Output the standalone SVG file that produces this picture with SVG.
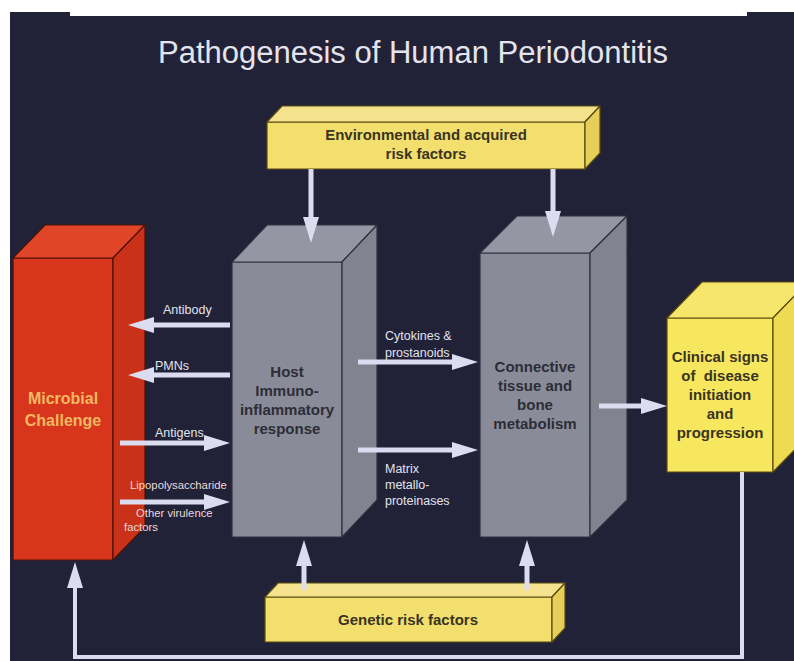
<svg xmlns="http://www.w3.org/2000/svg" width="794" height="661" viewBox="0 0 794 661">
<defs>
<style>
.bg{fill:#212238}
.edge{stroke-width:1.2;stroke-linejoin:round}
.red .f{fill:#d8361c}.red .t{fill:#e04528}.red .r{fill:#c93219}.red polygon,.red rect{stroke:#4a1208}
.gray .f{fill:#8a8b98}.gray .t{fill:#9596a3}.gray .r{fill:#82838f}.gray polygon,.gray rect{stroke:#2e3040}
.yel .f{fill:#f3df6e}.yel .t{fill:#f4e38c}.yel .r{fill:#e6cf58}.yel polygon,.yel rect{stroke:#5a4a10}
.yel2 .f{fill:#f7e75f}.yel2 .t{fill:#f6e76c}.yel2 .r{fill:#eedb52}.yel2 polygon,.yel2 rect{stroke:#5a4a10}
.title{font-family:"Liberation Sans",Arial,sans-serif;font-size:31px;fill:#e4e4ee}
.box{font-family:"Liberation Sans",Arial,sans-serif;font-weight:bold;font-size:15px;text-anchor:middle}
.gt{fill:#2c2d36}.yt{fill:#3a3420}.rt{fill:#f2b860;font-size:16px}
.lab{font-family:"Liberation Sans",Arial,sans-serif;font-size:12.5px;fill:#e2e2ec}
.lab2{font-family:"Liberation Sans",Arial,sans-serif;font-size:11.3px;fill:#ecd8d8}
.arr{stroke:#dcdcf0;stroke-width:5;fill:none}
.fb{stroke:#dcdcf0;stroke-width:4;fill:none}
</style>
<marker id="ah" markerUnits="userSpaceOnUse" markerWidth="26" markerHeight="16" viewBox="0 0 26 16" refX="14" refY="8" orient="auto">
<path d="M0,0 L26,8 L0,16 z" fill="#dcdcf0"/>
</marker>
</defs>
<rect class="bg" x="10" y="12" width="784" height="649"/>
<rect x="70" y="0" width="677" height="16" fill="#ffffff"/>
<text class="title" x="158" y="63">Pathogenesis of Human Periodontitis</text>

<g id="env" class="yel">
<rect class="f edge" x="267" y="122" width="318" height="47"/>
<polygon class="t edge" points="267,122 585,122 600,106 282,106"/>
<polygon class="r edge" points="585,122 600,106 600,153 585,169"/>
<text class="box yt" x="426" y="140" font-size="14.5">Environmental and acquired</text>
<text class="box yt" x="426" y="159" font-size="14.5">risk factors</text>
</g>

<g id="microbial" class="red">
<rect class="f edge" x="13" y="258" width="100" height="302"/>
<polygon class="t edge" points="13,258 113,258 145,225 45,225"/>
<polygon class="r edge" points="113,258 145,225 145,527 113,560"/>
<text class="box rt" x="63" y="404">Microbial</text>
<text class="box rt" x="63" y="426">Challenge</text>
</g>

<g id="host" class="gray">
<rect class="f edge" x="232" y="262" width="110" height="275"/>
<polygon class="t edge" points="232,262 342,262 377,225 267,225"/>
<polygon class="r edge" points="342,262 377,225 377,500 342,537"/>
<text class="box gt" x="287" y="377">Host</text>
<text class="box gt" x="287" y="396">Immuno-</text>
<text class="box gt" x="287" y="415">inflammatory</text>
<text class="box gt" x="287" y="434">response</text>
</g>

<g id="connective" class="gray">
<rect class="f edge" x="480" y="253" width="110" height="284"/>
<polygon class="t edge" points="480,253 590,253 627,216 517,216"/>
<polygon class="r edge" points="590,253 627,216 627,500 590,537"/>
<text class="box gt" x="535" y="372">Connective</text>
<text class="box gt" x="535" y="391">tissue and</text>
<text class="box gt" x="535" y="410">bone</text>
<text class="box gt" x="535" y="429">metabolism</text>
</g>

<g id="clinical" class="yel2">
<rect class="f edge" x="667" y="318" width="106" height="154"/>
<polygon class="t edge" points="667,318 773,318 808,282 702,282"/>
<polygon class="r edge" points="773,318 808,282 808,436 773,472"/>
<text class="box yt" x="720" y="362">Clinical signs</text>
<text class="box yt" x="720" y="381">of&#160; disease</text>
<text class="box yt" x="720" y="400">initiation</text>
<text class="box yt" x="720" y="419">and</text>
<text class="box yt" x="720" y="438">progression</text>
</g>

<g id="genetic" class="yel">
<rect class="f edge" x="265" y="597" width="287" height="45"/>
<polygon class="t edge" points="265,597 552,597 565,583 278,583"/>
<polygon class="r edge" points="552,597 565,583 565,628 552,642"/>
<text class="box yt" x="408" y="625">Genetic risk factors</text>
</g>

<g id="connectors">
<line class="arr" x1="311" y1="169" x2="311" y2="231" marker-end="url(#ah)"/>
<line class="arr" x1="553" y1="169" x2="553" y2="225" marker-end="url(#ah)"/>
<line class="arr" x1="230" y1="325" x2="140" y2="325" marker-end="url(#ah)"/>
<line class="arr" x1="230" y1="375" x2="140" y2="375" marker-end="url(#ah)"/>
<line class="arr" x1="120" y1="443" x2="218" y2="443" marker-end="url(#ah)"/>
<line class="arr" x1="120" y1="502" x2="218" y2="502" marker-end="url(#ah)"/>
<line class="arr" x1="358" y1="362" x2="466" y2="362" marker-end="url(#ah)"/>
<line class="arr" x1="358" y1="450" x2="466" y2="450" marker-end="url(#ah)"/>
<line class="arr" x1="599" y1="406" x2="655" y2="406" marker-end="url(#ah)"/>
<line class="arr" x1="304" y1="590" x2="304" y2="552" marker-end="url(#ah)"/>
<line class="arr" x1="527" y1="590" x2="527" y2="552" marker-end="url(#ah)"/>
<polyline class="fb" points="742,472 742,657 75,657 75,574" marker-end="url(#ah)"/>
<text class="lab" x="163" y="314">Antibody</text>
<text class="lab" x="155" y="370">PMNs</text>
<text class="lab" x="155" y="437">Antigens</text>
<text class="lab2" x="130" y="489">Lipopolysaccharide</text>
<text class="lab2" x="136" y="517">Other virulence</text>
<text class="lab2" x="124" y="531">factors</text>
<text class="lab" x="385" y="340">Cytokines &amp;</text>
<text class="lab" x="385" y="357">prostanoids</text>
<text class="lab" x="385" y="473">Matrix</text>
<text class="lab" x="385" y="489">metallo-</text>
<text class="lab" x="385" y="505">proteinases</text>
</g>
</svg>
